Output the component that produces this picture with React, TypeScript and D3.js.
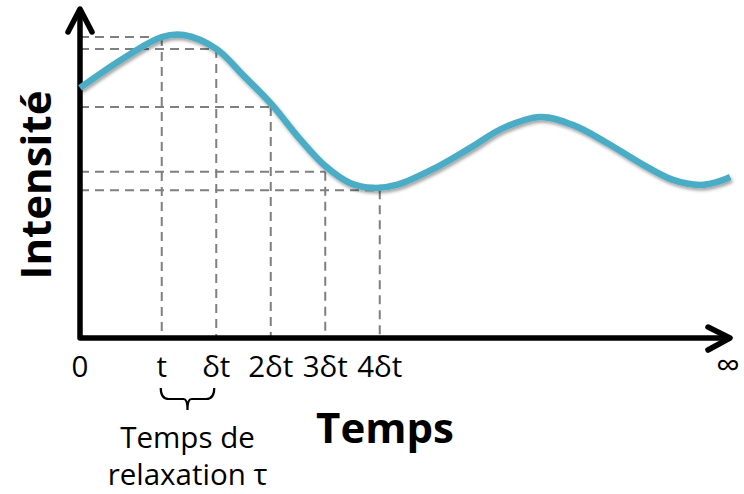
import { useEffect, useRef } from 'react'
import * as d3 from 'd3'

// time in units (tick spacing = 1), intensity in arbitrary units 0-100
const curveTime = [0, 0.8, 1.5, 1.9, 2.5, 3, 3.5, 4.04, 4.5, 4.95, 5.38, 5.81, 6.55, 7.16, 7.76, 8.45, 9.05, 9.67, 10.28, 10.88, 11.38, 11.69, 11.93]
const curveIntensity = [75.8, 84.8, 91.2, 91.8, 87.6, 79.5, 71.1, 60.2, 52.1, 47, 45.5, 46.4, 51.8, 57.6, 63.6, 67, 64.5, 59.1, 53, 47.9, 46.4, 47.3, 48.8]

const tickLabels = ['0', 't', 'δt', '2δt', '3δt', '4δt']
const tickTime = [0, 1.5, 2.5, 3.5, 4.5, 5.5]
// intensity levels of the dashed guides (t .. 4δt)
const guideIntensity = [91.2, 87.6, 70, 50.4, 44.8]

const W = 744
const H = 494
const FONT = '"Open Sans", "Noto Sans", sans-serif'

export default function App() {
  const svgRef = useRef<SVGSVGElement>(null)

  useEffect(() => {
    if (!svgRef.current) return
    const svg = d3.select(svgRef.current)
    svg.selectAll('*').remove()

    const x0 = 80
    const yBase = 338
    const x = d3.scaleLinear().domain([0, 12]).range([x0, x0 + 54.5 * 12])
    const y = d3.scaleLinear().domain([0, 100]).range([yBase, 8])

    const defs = svg.append('defs')
    const f = defs.append('filter').attr('id', 'shadow').attr('x', '-10%').attr('y', '-20%').attr('width', '130%').attr('height', '150%')
    f.append('feDropShadow')
      .attr('dx', 1.5)
      .attr('dy', 2.5)
      .attr('stdDeviation', 1.8)
      .attr('flood-color', '#000')
      .attr('flood-opacity', 0.35)

    // dashed guides
    const guides = svg.append('g')
      .attr('stroke', '#7f7f7f')
      .attr('stroke-width', 2)
      .attr('stroke-dasharray', '9,6')
      .attr('fill', 'none')

    guideIntensity.forEach((v, i) => {
      const tx = x(tickTime[i + 1])
      guides.append('line')
        .attr('x1', x0).attr('x2', tx)
        .attr('y1', y(v)).attr('y2', y(v))
      guides.append('line')
        .attr('x1', tx).attr('x2', tx)
        .attr('y1', y(v)).attr('y2', yBase)
    })

    // axes with open arrow heads
    const axes = svg.append('g')
      .attr('stroke', '#000')
      .attr('stroke-width', 5.5)
      .attr('stroke-linecap', 'round')
      .attr('stroke-linejoin', 'round')
      .attr('fill', 'none')
    const xEnd = 730
    const yTop = 9
    axes.append('path').attr('d', `M${x0},${yTop + 2} L${x0},${yBase} L${xEnd - 2},${yBase}`).attr('stroke-linecap', 'butt')
    axes.append('path').attr('d', `M${x0 - 12},${yTop + 23} L${x0},${yTop} L${x0 + 12},${yTop + 23}`)
    axes.append('path').attr('d', `M${xEnd - 22},${yBase - 11} L${xEnd},${yBase} L${xEnd - 22},${yBase + 12}`)

    // curve
    const pts = curveTime.map((t, i) => [t, curveIntensity[i]] as [number, number])
    const line = d3.line<[number, number]>()
      .x(d => x(d[0]))
      .y(d => y(d[1]))
      .curve(d3.curveCatmullRom.alpha(0.5))
    svg.append('path')
      .datum(pts)
      .attr('fill', 'none')
      .attr('stroke', '#4bacc6')
      .attr('stroke-width', 6.5)
      .attr('stroke-linecap', 'butt')
      .attr('filter', 'url(#shadow)')
      .attr('d', line)

    // tick labels
    svg.append('g')
      .selectAll('text')
      .data(tickLabels)
      .join('text')
      .attr('x', (_, i) => x(tickTime[i]))
      .attr('y', 377)
      .attr('text-anchor', 'middle')
      .attr('font-family', FONT)
      .attr('font-size', 29.5)
      .attr('fill', '#000')
      .text(d => d)

    svg.append('text')
      .attr('x', 716)
      .attr('y', 377)
      .attr('font-family', FONT)
      .attr('font-size', 34)
      .text('∞')

    // brace under t .. δt
    const bx1 = x(tickTime[1]) - 1
    const bx2 = x(tickTime[2]) - 2
    const bm = (bx1 + bx2) / 2
    svg.append('path')
      .attr('d', `M${bx1},388 Q${bx1},399 ${bx1 + 8},399 L${bm - 4},399 Q${bm},399 ${bm},410 Q${bm},399 ${bm + 4},399 L${bx2 - 8},399 Q${bx2},399 ${bx2},388`)
      .attr('fill', 'none')
      .attr('stroke', '#000')
      .attr('stroke-width', 2.2)

    svg.append('text')
      .attr('x', bm)
      .attr('y', 448)
      .attr('text-anchor', 'middle')
      .attr('font-family', FONT)
      .attr('font-size', 29.5)
      .text('Temps de')
    svg.append('text')
      .attr('x', bm)
      .attr('y', 485)
      .attr('text-anchor', 'middle')
      .attr('font-family', FONT)
      .attr('font-size', 29.5)
      .text('relaxation τ')

    // axis titles
    svg.append('text')
      .attr('x', 385)
      .attr('y', 443)
      .attr('text-anchor', 'middle')
      .attr('font-family', FONT)
      .attr('font-weight', 'bold')
      .attr('font-size', 42)
      .text('Temps')

    svg.append('text')
      .attr('transform', 'translate(51,185) rotate(-90)')
      .attr('text-anchor', 'middle')
      .attr('font-family', FONT)
      .attr('font-weight', 'bold')
      .attr('font-size', 42)
      .text('Intensité')
  }, [])

  return (
    <svg
      ref={svgRef}
      width={W}
      height={H}
      style={{ position: 'absolute', left: 0, top: 0, background: '#fff' }}
    />
  )
}
